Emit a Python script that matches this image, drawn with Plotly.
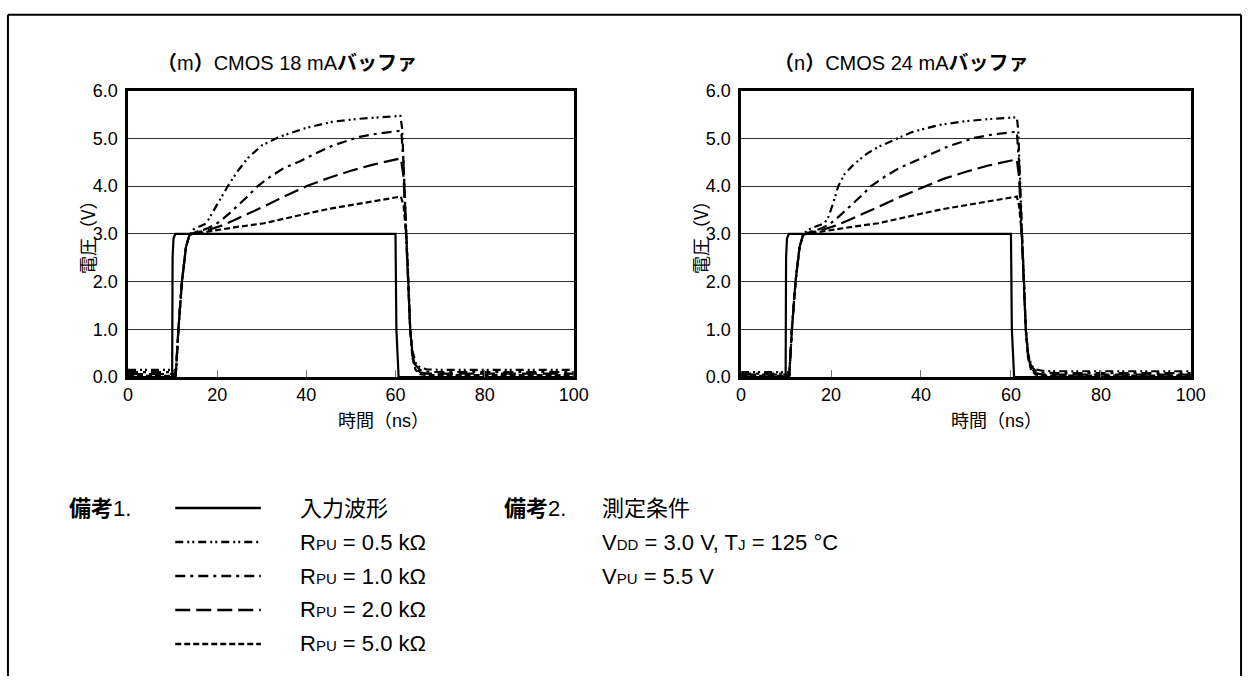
import plotly.graph_objects as go

W, H = 1258, 686

# ---------------- data ----------------
X_TICKS = [0, 20, 40, 60, 80, 100]
Y_TICKS = [0, 1, 2, 3, 4, 5, 6]

# input waveform (both panels)
T_IN = [0, 9.9, 10.0, 10.2, 10.6, 60.0, 60.2, 60.7, 100]
V_IN = [0, 0, 2.5, 2.9, 3.0, 3.0, 1.0, 0, 0]

# (m) CMOS 18 mA buffer
T_M_05 = [0, 10.4, 10.7, 11.3, 12.1, 13.0, 13.8, 14.8, 16.0, 17.2, 18.0, 19.0, 20.2, 21.3, 22.4, 24.5, 26.9, 30.0, 34.2, 40.0, 46.0, 52.0, 58.0, 61.1, 61.5, 62.0, 62.5, 62.9, 63.3, 63.8, 64.5, 65.5, 67.0, 70.0, 100]
V_M_05 = [0.15, 0.15, 0.02, 1.0, 2.0, 2.72, 2.98, 3.1, 3.15, 3.2, 3.29, 3.45, 3.63, 3.82, 4.0, 4.3, 4.59, 4.85, 5.04, 5.22, 5.35, 5.41, 5.45, 5.47, 5.2, 4.0, 2.9, 2.0, 1.0, 0.55, 0.3, 0.2, 0.16, 0.15, 0.15]
T_M_10 = [0, 10.4, 10.7, 11.3, 12.1, 13.0, 13.8, 14.8, 16.5, 18.0, 19.5, 21.0, 23.0, 25.0, 27.0, 29.1, 32.0, 35.0, 38.6, 42.0, 46.0, 51.9, 56.0, 61.3, 61.8, 62.4, 62.9, 63.3, 63.8, 64.5, 65.5, 67.0, 70.0, 100]
V_M_10 = [0.1, 0.1, 0.02, 1.0, 2.0, 2.72, 2.98, 3.03, 3.07, 3.12, 3.19, 3.29, 3.45, 3.62, 3.8, 4.0, 4.2, 4.38, 4.52, 4.68, 4.85, 5.03, 5.1, 5.16, 4.5, 3.0, 2.0, 1.0, 0.5, 0.25, 0.15, 0.11, 0.1, 0.1]
T_M_20 = [0, 10.4, 10.7, 11.3, 12.1, 13.0, 13.8, 14.8, 18.0, 21.0, 23.9, 27.0, 30.0, 35.0, 40.1, 45.0, 50.0, 55.0, 61.2, 61.8, 62.4, 62.9, 63.3, 63.8, 64.5, 65.5, 67.0, 100]
V_M_20 = [0.06, 0.06, 0.02, 1.0, 2.0, 2.72, 2.98, 3.02, 3.08, 3.17, 3.29, 3.42, 3.55, 3.78, 4.0, 4.17, 4.32, 4.45, 4.58, 4.2, 3.0, 2.0, 1.0, 0.45, 0.2, 0.1, 0.07, 0.07]
T_M_50 = [0, 10.4, 10.7, 11.3, 12.1, 13.0, 13.8, 14.8, 20.0, 25.0, 30.5, 35.0, 40.0, 45.0, 50.0, 55.0, 61.2, 61.8, 62.4, 62.9, 63.3, 63.8, 64.5, 65.5, 67.0, 100]
V_M_50 = [0.03, 0.03, 0.02, 1.0, 2.0, 2.72, 2.98, 3.0, 3.08, 3.15, 3.22, 3.32, 3.42, 3.52, 3.6, 3.68, 3.78, 3.6, 3.0, 2.0, 1.0, 0.4, 0.15, 0.06, 0.04, 0.04]

# (n) CMOS 24 mA buffer
T_N_05 = [0, 10.4, 10.7, 11.3, 12.1, 13.0, 13.8, 14.8, 16.0, 17.5, 18.5, 19.4, 20.5, 21.6, 23.0, 25.0, 28.0, 30.5, 33.3, 38.0, 44.0, 50.0, 56.0, 61.3, 61.6, 62.1, 62.5, 62.9, 63.3, 63.8, 64.5, 65.5, 67.0, 70.0, 100]
V_N_05 = [0.1, 0.1, 0.02, 1.0, 2.0, 2.72, 2.98, 3.08, 3.13, 3.18, 3.22, 3.35, 3.65, 4.0, 4.25, 4.45, 4.68, 4.82, 4.93, 5.13, 5.28, 5.36, 5.41, 5.44, 5.2, 4.0, 2.9, 2.0, 1.0, 0.5, 0.25, 0.16, 0.13, 0.12, 0.12]
T_N_10 = [0, 10.4, 10.7, 11.3, 12.1, 13.0, 13.8, 14.8, 16.5, 18.0, 19.5, 21.0, 23.0, 25.0, 27.0, 28.9, 32.0, 35.0, 38.6, 42.0, 46.0, 51.9, 56.0, 61.3, 61.8, 62.4, 62.9, 63.3, 63.8, 64.5, 65.5, 67.0, 70.0, 100]
V_N_10 = [0.07, 0.07, 0.02, 1.0, 2.0, 2.72, 2.98, 3.03, 3.07, 3.12, 3.19, 3.3, 3.47, 3.64, 3.82, 4.0, 4.2, 4.37, 4.52, 4.67, 4.83, 5.01, 5.08, 5.14, 4.5, 3.0, 2.0, 1.0, 0.5, 0.22, 0.13, 0.09, 0.08, 0.08]
T_N_20 = [0, 10.4, 10.7, 11.3, 12.1, 13.0, 13.8, 14.8, 18.0, 21.0, 24.0, 27.0, 30.0, 35.0, 40.5, 45.0, 50.0, 55.0, 61.3, 61.8, 62.4, 62.9, 63.3, 63.8, 64.5, 65.5, 67.0, 100]
V_N_20 = [0.05, 0.05, 0.02, 1.0, 2.0, 2.72, 2.98, 3.02, 3.08, 3.17, 3.29, 3.41, 3.54, 3.76, 3.98, 4.15, 4.3, 4.43, 4.56, 4.2, 3.0, 2.0, 1.0, 0.45, 0.18, 0.08, 0.05, 0.05]
T_N_50 = [0, 10.4, 10.7, 11.3, 12.1, 13.0, 13.8, 14.8, 20.0, 25.0, 30.5, 35.0, 40.0, 45.0, 50.0, 55.0, 61.3, 61.8, 62.4, 62.9, 63.3, 63.8, 64.5, 65.5, 67.0, 100]
V_N_50 = [0.03, 0.03, 0.02, 1.0, 2.0, 2.72, 2.98, 3.0, 3.08, 3.15, 3.22, 3.32, 3.42, 3.52, 3.6, 3.68, 3.78, 3.6, 3.0, 2.0, 1.0, 0.4, 0.14, 0.05, 0.03, 0.03]

TITLES = ["<b>（</b>m<b>）</b>CMOS 18 mA<b>バッファ</b>",
          "<b>（</b>n<b>）</b>CMOS 24 mA<b>バッファ</b>"]
X_TITLE = "時間（ns）"
Y_TITLE = "電圧（V）"
SMALL = '<span style="font-size:15px">{}</span>'
LEGEND_LABELS = ["入力波形",
                 "R" + SMALL.format("PU") + " = 0.5 kΩ",
                 "R" + SMALL.format("PU") + " = 1.0 kΩ",
                 "R" + SMALL.format("PU") + " = 2.0 kΩ",
                 "R" + SMALL.format("PU") + " = 5.0 kΩ"]
NOTE2_LINES = ["測定条件",
               "V" + SMALL.format("DD") + " = 3.0 V, T" + SMALL.format("J") + " = 125 °C",
               "V" + SMALL.format("PU") + " = 5.5 V"]

# ---------------- styles ----------------
DASHES = ["solid", "8px,4px,2px,3px,2px,4px", "10px,5px,3px,5px", "15px,6px", "6px,3px"]
LW = 2.2
FONT = "Liberation Sans, Arial, Noto Sans CJK JP, sans-serif"
CJK = "Noto Sans CJK JP, sans-serif"


def px(x):
    return x / W


def py(y):
    return 1 - y / H


fig = go.Figure()

panels = [
    ("x", "y", [(T_IN, V_IN), (T_M_05, V_M_05), (T_M_10, V_M_10), (T_M_20, V_M_20), (T_M_50, V_M_50)]),
    ("x2", "y2", [(T_IN, V_IN), (T_N_05, V_N_05), (T_N_10, V_N_10), (T_N_20, V_N_20), (T_N_50, V_N_50)]),
]
for xa, ya, series in panels:
    for i in [4, 3, 2, 1, 0]:
        t, v = series[i]
        fig.add_trace(go.Scatter(x=t, y=v, mode="lines", xaxis=xa, yaxis=ya,
                                 line=dict(color="black", width=LW, dash=DASHES[i]),
                                 showlegend=False, hoverinfo="skip"))

PLOT_X = [(125, 578), (748, 1205)]
PLOT_Y = (83, 378)

axis_common = dict(showline=True, mirror=True, linecolor="black", linewidth=2.5,
                   zeroline=False, tickfont=dict(family=FONT, size=18, color="black"))
layout = dict(
    width=W, height=H, margin=dict(l=0, r=0, t=0, b=0),
    paper_bgcolor="white", plot_bgcolor="white", showlegend=False,
)
for k, (x0, x1) in enumerate(PLOT_X):
    sfx = "" if k == 0 else str(k + 1)
    layout["xaxis" + sfx] = dict(domain=[px(x0), px(x1)], range=[0, 100], tickvals=X_TICKS,
                                 ticks="inside", ticklen=7, tickcolor="#777", tickwidth=1,
                                 showgrid=False, anchor="y" + sfx, **axis_common)
    layout["yaxis" + sfx] = dict(domain=[py(PLOT_Y[1]), py(PLOT_Y[0])], range=[0, 6], tickvals=Y_TICKS,
                                 tickformat=".1f", ticks="", showgrid=True, gridcolor="#333", gridwidth=1,
                                 anchor="x" + sfx, ticklabelstandoff=4, **axis_common)
fig.update_layout(**layout)

ann = []
TITLE_CX = [287, 910]
XT_CX = [385, 1008]
YT_CX = [84, 707]
for k in range(2):
    ann.append(dict(x=px(TITLE_CX[k]), y=py(55), xref="paper", yref="paper", text=TITLES[k],
                    showarrow=False, xanchor="center", yanchor="middle",
                    font=dict(family=FONT, size=20, color="black")))
    ann.append(dict(x=px(XT_CX[k]), y=py(423), xref="paper", yref="paper", text=X_TITLE,
                    showarrow=False, xanchor="center", yanchor="middle",
                    font=dict(family=FONT, size=18, color="black")))
    ann.append(dict(x=px(YT_CX[k]), y=py(230), xref="paper", yref="paper", text=Y_TITLE,
                    showarrow=False, xanchor="center", yanchor="middle", textangle=-90,
                    font=dict(family=CJK, size=18, color="#000000")))

ROW_Y = [513, 548, 583, 618, 653]
LEG_FONT = dict(family=FONT, size=22, color="black")
ann.append(dict(x=px(63), y=py(ROW_Y[0]), xref="paper", yref="paper", text="<b>備考</b>1.",
                showarrow=False, xanchor="left", yanchor="middle", font=LEG_FONT))
shapes = []
for i, lab in enumerate(LEGEND_LABELS):
    ann.append(dict(x=px(298), y=py(ROW_Y[i]), xref="paper", yref="paper", text=lab,
                    showarrow=False, xanchor="left", yanchor="middle", font=LEG_FONT))
    shapes.append(dict(type="line", xref="paper", yref="paper", x0=px(173), x1=px(260),
                       y0=py(ROW_Y[i]), y1=py(ROW_Y[i]),
                       line=dict(color="black", width=2.5, dash=DASHES[i])))
ann.append(dict(x=px(505), y=py(ROW_Y[0]), xref="paper", yref="paper", text="<b>備考</b>2.",
                showarrow=False, xanchor="left", yanchor="middle", font=LEG_FONT))
for i, lab in enumerate(NOTE2_LINES):
    ann.append(dict(x=px(605), y=py(ROW_Y[i]), xref="paper", yref="paper", text=lab,
                    showarrow=False, xanchor="left", yanchor="middle", font=LEG_FONT))

# page frame
frame = dict(color="black", width=2)
shapes.append(dict(type="line", xref="paper", yref="paper", x0=px(3), x1=px(3), y0=0, y1=py(5), line=frame))
shapes.append(dict(type="line", xref="paper", yref="paper", x0=px(3), x1=px(1256), y0=py(5), y1=py(5), line=frame))
shapes.append(dict(type="line", xref="paper", yref="paper", x0=px(1256), x1=px(1256), y0=0, y1=py(5), line=frame))

fig.update_layout(annotations=ann, shapes=shapes)
fig.write_html("out.html", config={"displayModeBar": False},
               post_script="document.body.style.margin='0px';document.body.style.overflow='hidden';")
